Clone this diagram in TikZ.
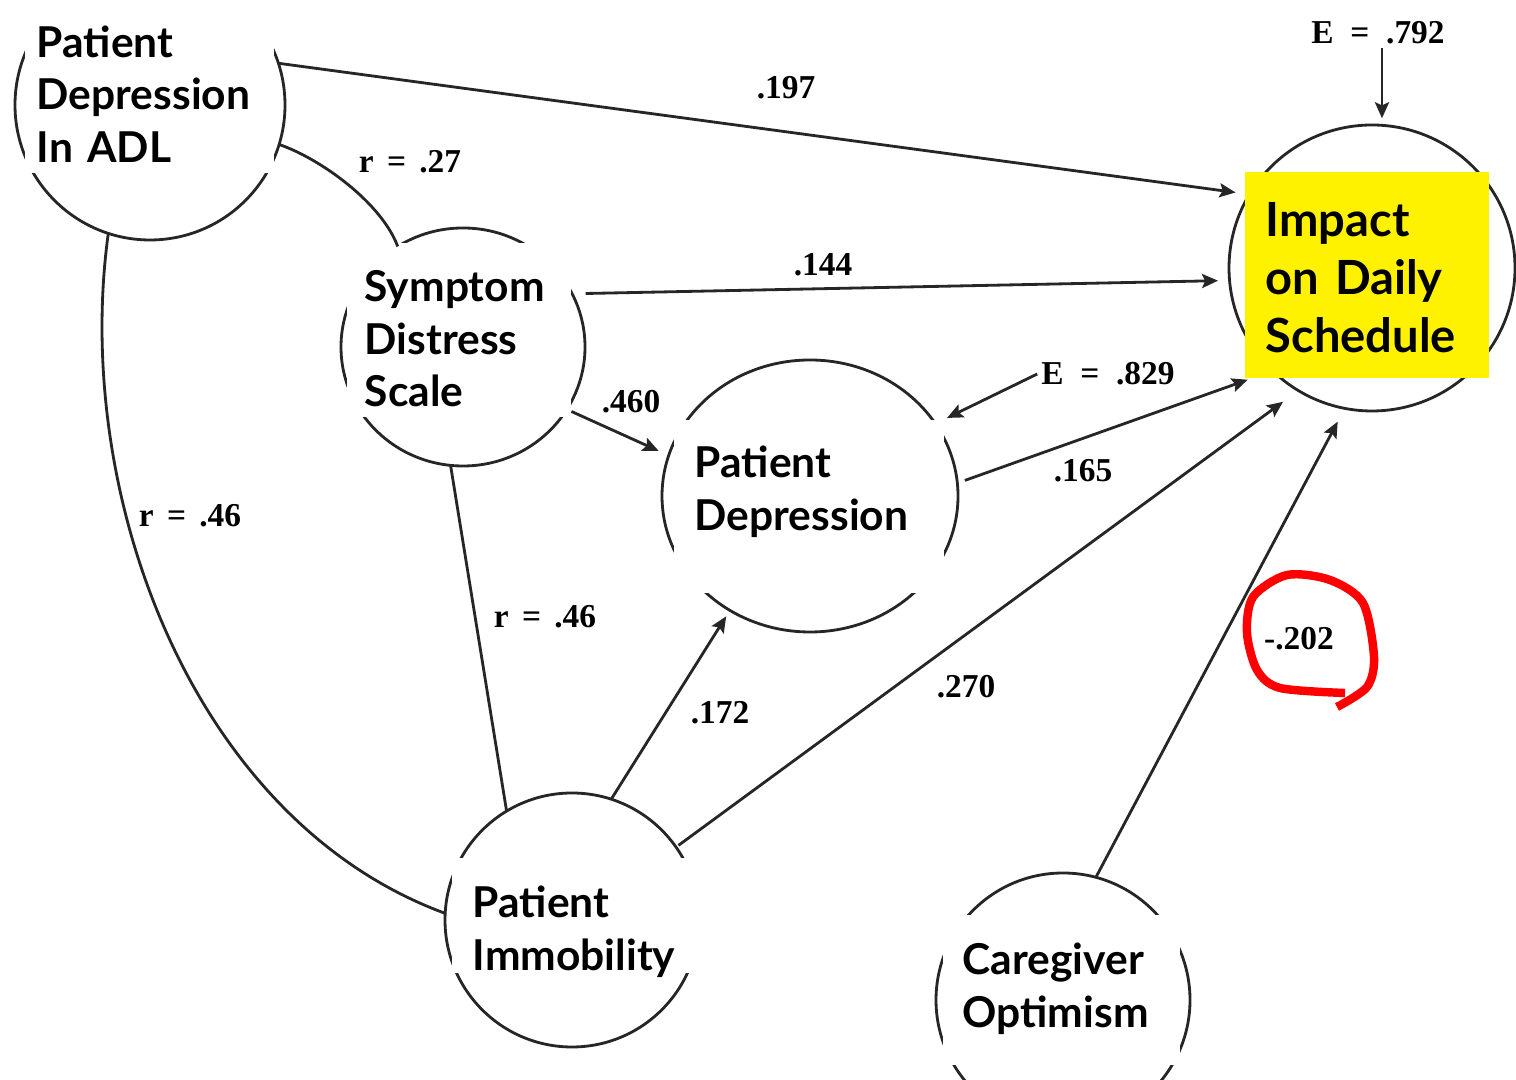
\documentclass[tikz,border=0pt]{standalone}
\usepackage{fontspec}
\usetikzlibrary{arrows.meta,shapes.geometric}
\newfontfamily\labfont{Lato}
\newfontfamily\coeffont{Liberation Serif}

\tikzset{
  latent/.style={ellipse, draw=black!85, line width=0.8pt, inner sep=0pt, outer sep=0pt},
  mask/.style={fill=white},
  lab/.style={anchor=base west, inner sep=0pt, text width=3cm, align=left,
    font=\labfont\bfseries\fontsize{12.1}{14.8}\selectfont},
  biglab/.style={lab, font=\labfont\bfseries\fontsize{13.4}{16.5}\selectfont},
  coef/.style={font=\coeffont\bfseries\fontsize{9.5}{11}\selectfont, inner sep=1pt},
  effect/.style={draw=black!85, line width=0.8pt, -{Stealth[length=0.16cm,width=0.14cm,inset=0.03cm]}},
  corr/.style={draw=black!85, line width=0.8pt},
}

\begin{document}
\begin{tikzpicture}
\useasboundingbox (0,0) rectangle (15.16,10.80);

\node[latent, minimum width=2.70cm, minimum height=2.70cm] (adl) at (1.50,9.75) {};
\node[latent, minimum width=2.44cm, minimum height=2.38cm] (sds) at (4.63,7.33) {};
\node[latent, minimum width=2.96cm, minimum height=2.72cm] (dep) at (8.10,5.84) {};
\node[latent, minimum width=2.86cm, minimum height=2.86cm] (imp) at (13.72,8.12) {};
\node[latent, minimum width=2.54cm, minimum height=2.54cm] (imm) at (5.72,1.60) {};
\node[latent, minimum width=2.54cm, minimum height=2.54cm] (opt) at (10.63,0.80) {};

\fill[mask] (0.25,10.85) rectangle (2.74,9.07);
\fill[mask] (3.47,8.37) rectangle (5.71,6.63);
\fill[mask] (6.74,6.60) rectangle (9.44,4.87);
\fill[yellow] (12.45,9.08) rectangle (14.89,7.02);
\fill[mask] (4.52,2.22) rectangle (7.06,1.07);
\fill[mask] (9.43,1.65) rectangle (11.80,0.15);

\node[coef] (eimp) at (13.78,10.47) {E\enspace=\enspace.792};
\node[coef] (edep) at (11.08,7.06) {E\enspace=\enspace.829};

\draw[effect, shorten >=0.14cm] (adl.18) -- (imp.149);
\draw[effect, shorten <=0.136cm, shorten >=0.115cm] (sds.26) -- (imp.185);
\draw[effect, shorten <=0.05cm, shorten >=0.11cm] (sds.-31) -- (dep.164);
\draw[effect, shorten >=0.13cm] (edep.west) -- (dep.30);
\draw[effect, shorten <=0.08cm, shorten >=0.265cm] (dep.5) -- (imp.226);
\draw[effect, shorten <=0.03cm, shorten >=0.19cm] (imm.35) -- (imp.239);
\draw[effect, shorten >=0.15cm] (opt.75) -- (imp.259);
\draw[effect, shorten >=0.07cm] (imm.72) -- (dep.235);
\draw[effect, shorten >=0.07cm] (eimp.south -| imp.86) -- (imp.86);
\draw[corr] (sds.264) -- (imm.121);
\draw[corr] (adl.-17) .. controls +(0.43,-0.15) and +(-0.16,0.43) .. (sds.123);
\draw[corr] (adl.252) .. controls +(-0.36,-2.62) and +(-2.53,0.93) .. (imm.177);

\node[coef] (c197) at (7.86,9.92) {.197};
\node[coef] (r27) at (4.10,9.18) {r\hspace{0.4em}=\hspace{0.4em}.27};
\node[coef] (c144) at (8.23,8.15) {.144};
\node[coef] (c460) at (6.31,6.78) {.460};
\node[coef] (c165) at (10.83,6.09) {.165};
\node[coef] (c172) at (7.20,3.67) {.172};
\node[coef] (c270) at (9.66,3.93) {.270};
\node[coef] (c202) at (12.99,4.41) {-.202};
\node[coef] (r46b) at (5.45,4.63) {r\hspace{0.4em}=\hspace{0.4em}.46};
\node[coef] (r46a) at (1.90,5.64) {r\hspace{0.4em}=\hspace{0.4em}.46};

\draw[red, line width=2.4pt] plot[smooth] coordinates {(13.37,3.73) (13.67,3.93) (13.74,4.23) (13.63,4.77) (13.30,5.00) (12.87,5.05) (12.53,4.83) (12.47,4.47) (12.57,4.10) (12.80,3.92) (13.45,3.87)};

\node[lab] (adltext) at (0.36,10.22) {Patient\\Depression\\In ADL};
\node[lab] (sdstext) at (3.64,7.78) {Symptom\\Distress\\Scale};
\node[lab] (deptext) at (6.94,6.02) {Patient\\Depression};
\node[biglab] (imptext) at (12.65,8.43) {Impact\\on Daily\\Schedule};
\node[lab] (immtext) at (4.72,1.62) {Patient\\Immobility};
\node[lab] (opttext) at (9.62,1.05) {Caregiver\\Optimism};
\end{tikzpicture}
\end{document}
